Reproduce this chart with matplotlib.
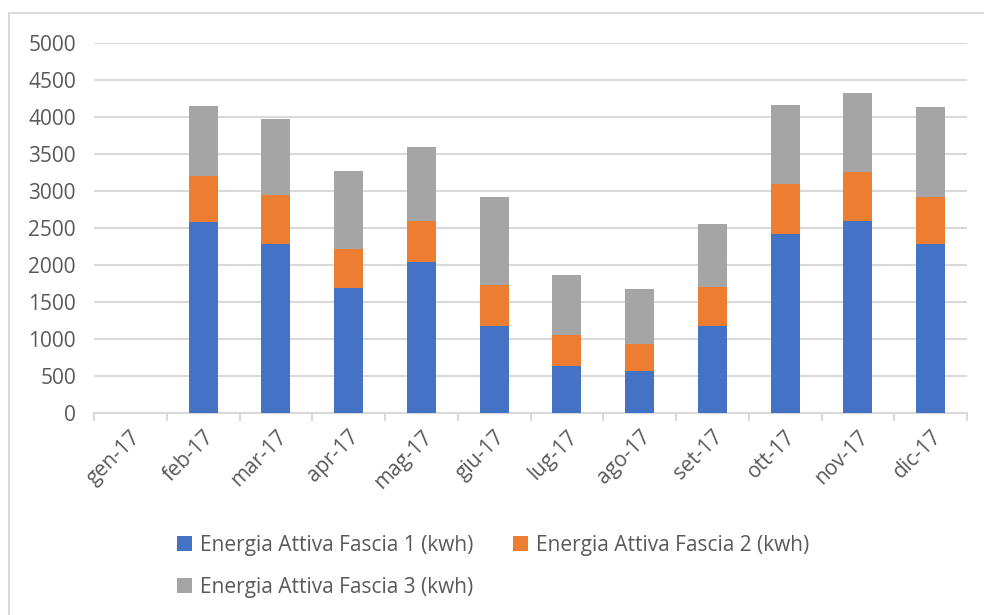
import numpy as np
import matplotlib.pyplot as plt
from matplotlib.patches import Rectangle

mesi = ["gen-17", "feb-17", "mar-17", "apr-17", "mag-17", "giu-17",
        "lug-17", "ago-17", "set-17", "ott-17", "nov-17", "dic-17"]
fascia1 = [0, 2573, 2275, 1690, 2032, 1172, 631, 563, 1172, 2419, 2590, 2280]
fascia2 = [0, 626, 663, 518, 554, 550, 415, 365, 531, 672, 659, 639]
fascia3 = [0, 946, 1035, 1054, 1009, 1197, 811, 739, 851, 1071, 1075, 1212]

plt.rcParams['font.family'] = ['Open Sans', 'DejaVu Sans']
testo = "#595959"
griglia = "#d9d9d9"
fs = 15

fig = plt.figure(figsize=(9.84, 6.15), dpi=100)
ax = fig.add_axes([94 / 984, 1 - 412.7 / 615, 873 / 984, 370 / 615])

x = np.arange(len(mesi))
f1 = np.array(fascia1)
f2 = np.array(fascia2)
f3 = np.array(fascia3)
w = 0.4
b1 = ax.bar(x, f1, w, color="#4472c4", label="Energia Attiva Fascia 1 (kwh)", zorder=3)
b2 = ax.bar(x, f2, w, bottom=f1, color="#ed7d31", label="Energia Attiva Fascia 2 (kwh)", zorder=3)
b3 = ax.bar(x, f3, w, bottom=f1 + f2, color="#a5a5a5", label="Energia Attiva Fascia 3 (kwh)", zorder=3)

ax.set_xlim(-0.5, len(mesi) - 0.5)
ax.set_ylim(0, 5000)
ax.set_yticks(np.arange(0, 5001, 500))
ax.yaxis.grid(True, color=griglia, lw=1.5, zorder=0)
ax.tick_params(axis="y", length=0, pad=13, labelsize=fs, labelcolor=testo)

# category ticks on boundaries, labels on centres
ax.set_xticks(np.arange(-0.5, len(mesi)), minor=False)
ax.set_xticklabels([])
ax.set_xticks(x, minor=True)
ax.set_xticklabels(mesi, minor=True, rotation=45, ha="right",
                   rotation_mode="anchor", fontsize=fs, color=testo)
ax.tick_params(axis="x", which="major", length=6, width=1.5, color=griglia)
ax.tick_params(axis="x", which="minor", length=0, pad=10)

for s in ["top", "right", "left"]:
    ax.spines[s].set_visible(False)
ax.spines["bottom"].set_color(griglia)
ax.spines["bottom"].set_linewidth(1.5)

# row-wise legend order: 1, 2 on first row, 3 below
fig.legend([b1, b3, b2], [b1.get_label(), b3.get_label(), b2.get_label()],
           loc="upper left", bbox_to_anchor=(158 / 984, 1 - 516 / 615), ncol=2,
           frameon=False, fontsize=fs, labelcolor=testo, handlelength=0.75,
           handleheight=0.75, handletextpad=0.35, columnspacing=1.9,
           labelspacing=1.0)

fig.patches.append(Rectangle((9 / 984, -0.1), 1.1, 1 - 13 / 615 + 0.1,
                             transform=fig.transFigure, fill=False,
                             edgecolor=griglia, lw=1.5))

fig.savefig("out.png", dpi=100)
